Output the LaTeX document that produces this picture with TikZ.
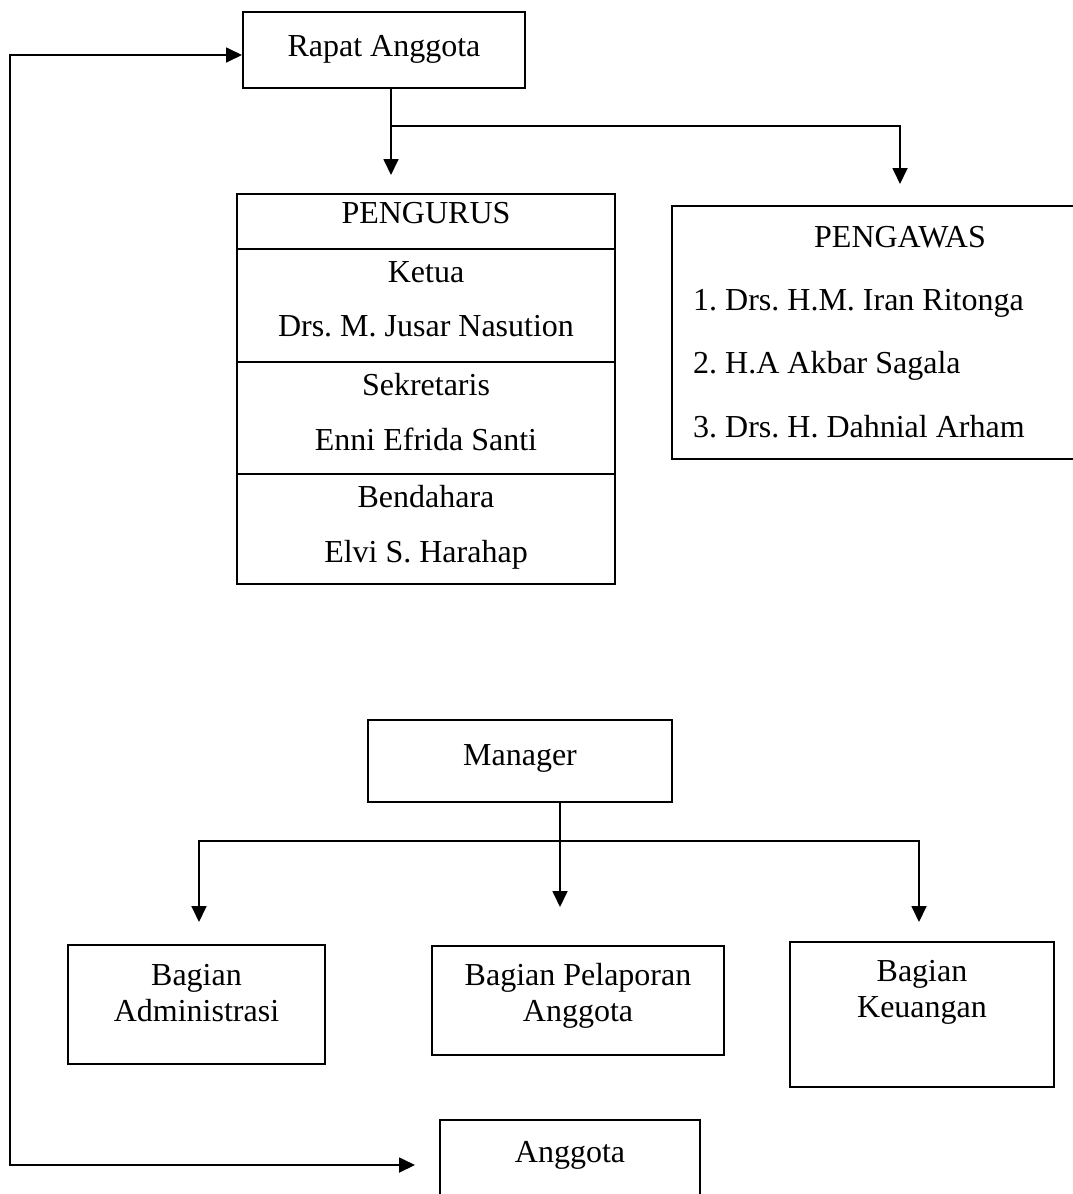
\documentclass[tikz,border=0pt]{standalone}
\usepackage{fontspec}
\setmainfont{Liberation Serif}
\usetikzlibrary{arrows.meta}
\frenchspacing
\tikzset{
  box/.style={draw, line width=2pt, rectangle, inner sep=0pt},
  txt/.style={inner sep=0pt, font=\fontsize{32}{37}\selectfont\frenchspacing, anchor=base},
  conn/.style={line width=1.8pt},
  arr/.style={conn, -{Triangle[length=16pt,width=15pt]}},
  arrboth/.style={conn, {Triangle[length=16pt,width=15pt]}-{Triangle[length=16pt,width=15pt]}}
}
\begin{document}
\begin{tikzpicture}[x=1pt,y=-1pt]
\useasboundingbox (0,0) rectangle (1073,1194);
\clip (0,0) rectangle (1073,1194);
\fill[white] (0,0) rectangle (1073,1194);

% boxes
\node[box, minimum width=282pt, minimum height=76pt] (rapat) at (384,50) {};
\node[box, minimum width=378pt, minimum height=390pt] (pengurus) at (426,389) {};
\node[box, minimum width=456pt, minimum height=253pt] (pengawas) at (900,332.5) {};
\node[box, minimum width=304pt, minimum height=82pt] (manager) at (520,761) {};
\node[box, minimum width=257pt, minimum height=119pt] (admin) at (196.5,1004.5) {};
\node[box, minimum width=292pt, minimum height=109pt] (pelaporan) at (578,1000.5) {};
\node[box, minimum width=264pt, minimum height=145pt] (keuangan) at (922,1014.5) {};
\node[box, minimum width=260pt, minimum height=100pt] (anggota) at (570,1170) {};

% dividers of PENGURUS
\draw[line width=2pt] (pengurus.west |- 0,249) -- (pengurus.east |- 0,249);
\draw[line width=2pt] (pengurus.west |- 0,362) -- (pengurus.east |- 0,362);
\draw[line width=2pt] (pengurus.west |- 0,474) -- (pengurus.east |- 0,474);

% texts
\node[txt] (t-rapat) at (384,56) {Rapat Anggota};
\node[txt] (t-pengurus) at (426,223) {PENGURUS};
\node[txt] (t-ketua) at (426,282) {Ketua};
\node[txt] (t-ketuan) at (426,336) {Drs. M. Jusar Nasution};
\node[txt] (t-sek) at (426,395) {Sekretaris};
\node[txt] (t-sekn) at (426,450) {Enni Efrida Santi};
\node[txt] (t-ben) at (426,507) {Bendahara};
\node[txt] (t-benn) at (426,562) {Elvi S. Harahap};
\node[txt] (t-pengawas) at (900,247) {PENGAWAS};
\node[txt, anchor=base west] (t-p1) at (693,310) {1. Drs. H.M. Iran Ritonga};
\node[txt, anchor=base west] (t-p2) at (693,373) {2. H.A Akbar Sagala};
\node[txt, anchor=base west] (t-p3) at (693,437) {3. Drs. H. Dahnial Arham};
\node[txt] (t-manager) at (520,765) {Manager};
\node[txt] (t-adm1) at (196.5,985) {Bagian};
\node[txt] (t-adm2) at (196.5,1021) {Administrasi};
\node[txt] (t-pel1) at (578,985) {Bagian Pelaporan};
\node[txt] (t-pel2) at (578,1021) {Anggota};
\node[txt] (t-keu1) at (922,981) {Bagian};
\node[txt] (t-keu2) at (922,1017) {Keuangan};
\node[txt] (t-anggota) at (570,1162) {Anggota};

% connectors
\coordinate (loopTop) at (10,55);
\coordinate (loopBot) at (10,1165);
\draw[arrboth, shorten >=24pt] (rapat.west |- loopTop) -- (loopTop) -- (loopBot) -- (anggota.west |- loopBot);

\coordinate (rdown) at (391,126);
\draw[arr, shorten >=18pt] (rapat.south -| rdown) -- (pengurus.north -| rdown);
\draw[arr, shorten >=21pt] (rdown) -- (rdown -| pengawas.north) -- (pengawas.north);

\coordinate (mdown) at (560,841);
\coordinate (mleft) at (199,841);
\coordinate (mright) at (919,841);
\draw[arr, shorten >=38pt] (manager.south -| mdown) -- (pelaporan.north -| mdown);
\draw[arr, shorten >=22pt] (mdown) -- (mleft) -- (admin.north -| mleft);
\draw[arr, shorten >=19pt] (mdown) -- (mright) -- (keuangan.north -| mright);
\end{tikzpicture}
\end{document}
